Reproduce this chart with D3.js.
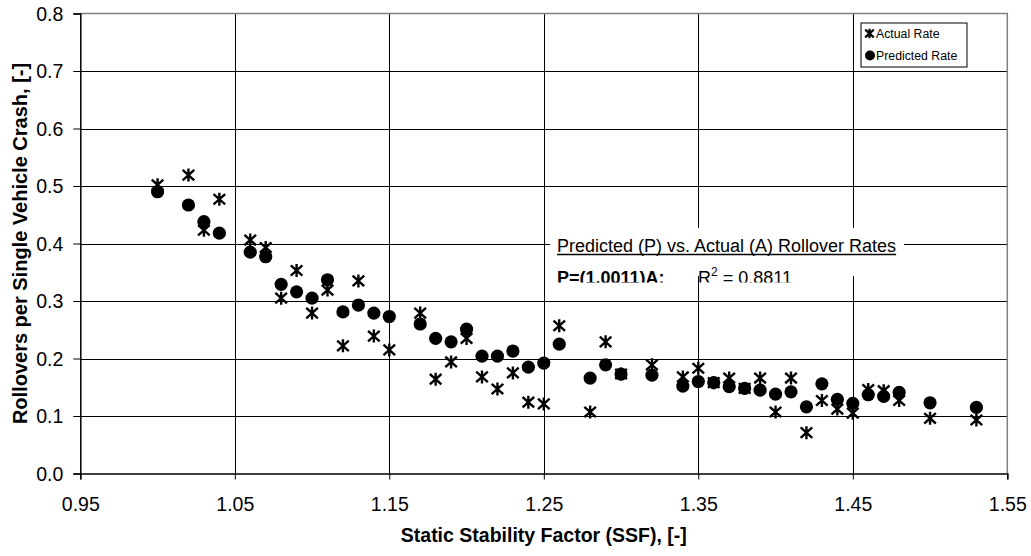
<!DOCTYPE html>
<html>
<head>
<meta charset="utf-8">
<script src="https://cdn.jsdelivr.net/npm/d3@7"></script>
<style>
  html, body { margin: 0; padding: 0; background: #fff; }
  svg { display: block; font-family: "Liberation Sans", Arial, sans-serif; }
</style>
</head>
<body>
<svg id="chart" width="1031" height="556"></svg>
<script>
// ---- data ----
const ssf = [1.00,1.02,1.03,1.04,1.06,1.07,1.08,1.09,1.10,1.11,1.12,1.13,1.14,1.15,1.17,1.18,1.19,1.20,1.21,1.22,1.23,1.24,1.25,1.26,1.28,1.29,1.30,1.32,1.34,1.35,1.36,1.37,1.38,1.39,1.40,1.41,1.42,1.43,1.44,1.45,1.46,1.47,1.48,1.50,1.53];
const actualRate = [0.502,0.519,0.423,0.477,0.406,0.393,0.305,0.353,0.279,0.319,0.222,0.335,0.239,0.215,0.279,0.164,0.194,0.235,0.168,0.147,0.175,0.124,0.121,0.257,0.107,0.229,0.173,0.189,0.168,0.183,0.158,0.166,0.148,0.166,0.107,0.166,0.071,0.127,0.112,0.105,0.146,0.144,0.127,0.096,0.093];
const predictedRate = [0.490,0.467,0.438,0.418,0.385,0.377,0.329,0.316,0.305,0.337,0.281,0.293,0.279,0.273,0.260,0.235,0.229,0.251,0.204,0.204,0.213,0.185,0.192,0.225,0.166,0.189,0.173,0.171,0.152,0.160,0.158,0.151,0.148,0.145,0.138,0.142,0.116,0.156,0.129,0.122,0.137,0.134,0.141,0.123,0.115];
const xTicks = [0.95,1.05,1.15,1.25,1.35,1.45,1.55];
const yTicks = [0.0,0.1,0.2,0.3,0.4,0.5,0.6,0.7,0.8];
const seriesNames = ["Actual Rate","Predicted Rate"];
const xTitle = "Static Stability Factor (SSF), [-]";
const yTitle = "Rollovers per Single Vehicle Crash, [-]";
const noteLine1 = "Predicted (P) vs. Actual (A) Rollover Rates";
const noteEq = "P=(1.0011)A:";
const noteR2 = "0.8811";

// ---- layout ----
const L = 80.3, R = 1007.3, T = 13.5, B = 473.5;
const svg = d3.select("#chart");
const x = d3.scaleLinear().domain([0.95, 1.55]).range([L, R]);
const y = d3.scaleLinear().domain([0, 0.8]).range([B, T]);

// gridlines
const grid = svg.append("g");
grid.selectAll("line.h").data(yTicks.filter(d => d > 0 && d < 0.8)).enter().append("line")
  .attr("x1", L).attr("x2", R).attr("y1", d => Math.round(y(d)) + 0.5).attr("y2", d => Math.round(y(d)) + 0.5)
  .attr("stroke", "#000").attr("stroke-width", 1);
grid.selectAll("line.v").data(xTicks.filter(d => d > 0.95 && d < 1.55)).enter().append("line")
  .attr("y1", T).attr("y2", B).attr("x1", d => Math.round(x(d)) + 0.5).attr("x2", d => Math.round(x(d)) + 0.5)
  .attr("stroke", "#000").attr("stroke-width", 1);

// plot border top/right (grey)
svg.append("path").attr("d", `M${L},${T}H${R}V${B}`).attr("fill", "none")
  .attr("stroke", "#808080").attr("stroke-width", 1.5);

// axes
const xAxis = d3.axisBottom(x).tickValues(xTicks).tickFormat(d3.format(".2f")).tickSize(6).tickPadding(18);
const yAxis = d3.axisLeft(y).tickValues(yTicks).tickFormat(d3.format(".1f")).tickSize(7).tickPadding(10);
const gx = svg.append("g").attr("transform", `translate(0,${B})`).call(xAxis);
const gy = svg.append("g").attr("transform", `translate(${L},0)`).call(yAxis);
[gx, gy].forEach(g => {
  g.select(".domain").attr("stroke", "#000").attr("stroke-width", 1.5);
  g.selectAll(".tick line").attr("stroke", "#000").attr("stroke-width", 1);
  g.selectAll(".tick text").attr("fill", "#000").style("font-size", "19.5px")
    .style("font-family", "'Liberation Sans', Arial, sans-serif");
});
gy.selectAll(".tick text").attr("dy", "0.35em");

// axis titles
svg.append("text").attr("x", (L + R) / 2).attr("y", 542).attr("text-anchor", "middle")
  .style("font-weight", "bold").style("font-size", "19.5px").text(xTitle);
svg.append("text").attr("transform", `translate(27,${(T + B) / 2}) rotate(-90)`).attr("text-anchor", "middle")
  .style("font-weight", "bold").style("font-size", "20px").text(yTitle);

// annotation text box
const clip = svg.append("defs").append("clipPath").attr("id", "noteclip");
clip.append("rect").attr("x", 540).attr("y", 220).attr("width", 400).attr("height", 62.5);
svg.append("rect").attr("x", 550).attr("y", 228).attr("width", 354).attr("height", 48).attr("fill", "#fff");
const note = svg.append("g").attr("clip-path", "url(#noteclip)").style("font-size", "18px");
note.append("text").attr("x", 557).attr("y", 251.5).text(noteLine1);
const t1 = note.select("text").node().getComputedTextLength();
note.append("line").attr("x1", 557).attr("x2", 557 + t1).attr("y1", 254.5).attr("y2", 254.5)
  .attr("stroke", "#000").attr("stroke-width", 1.3);
note.append("text").attr("x", 557).attr("y", 283.5).style("font-weight", "bold").text(noteEq);
const r2 = note.append("text").attr("x", 698).attr("y", 283.5);
r2.append("tspan").text("R");
r2.append("tspan").attr("dy", -8).style("font-size", "12px").text("2");
r2.append("tspan").attr("dy", 8).text(" = " + noteR2);

// markers
const starPath = (s, w, h) => `M0,${-s}V${s}M${-w},${-h}L${w},${h}M${-w},${h}L${w},${-h}`;
const data = ssf.map((v, i) => ({ x: v, a: actualRate[i], p: predictedRate[i] }));
svg.append("g").selectAll("path").data(data).enter().append("path")
  .attr("transform", d => `translate(${x(d.x)},${y(d.a)})`)
  .attr("d", starPath(6.5, 5.8, 5.2)).attr("stroke", "#000").attr("stroke-width", 2.4).attr("fill", "none");
svg.append("g").selectAll("circle").data(data).enter().append("circle")
  .attr("cx", d => x(d.x)).attr("cy", d => y(d.p)).attr("r", 6.6).attr("fill", "#000");

// legend
const lg = svg.append("g");
lg.append("rect").attr("x", 861).attr("y", 23).attr("width", 106).attr("height", 44)
  .attr("fill", "#fff").attr("stroke", "#000").attr("stroke-width", 1);
lg.append("path").attr("transform", "translate(869.5,33.5)").attr("d", starPath(4.8, 4.3, 3.9))
  .attr("stroke", "#000").attr("stroke-width", 2.2).attr("fill", "none");
lg.append("circle").attr("cx", 870).attr("cy", 55.5).attr("r", 5).attr("fill", "#000");
lg.append("text").attr("x", 876).attr("y", 38).style("font-size", "12.3px").text(seriesNames[0]);
lg.append("text").attr("x", 876).attr("y", 60).style("font-size", "12.3px").text(seriesNames[1]);
</script>
</body>
</html>
